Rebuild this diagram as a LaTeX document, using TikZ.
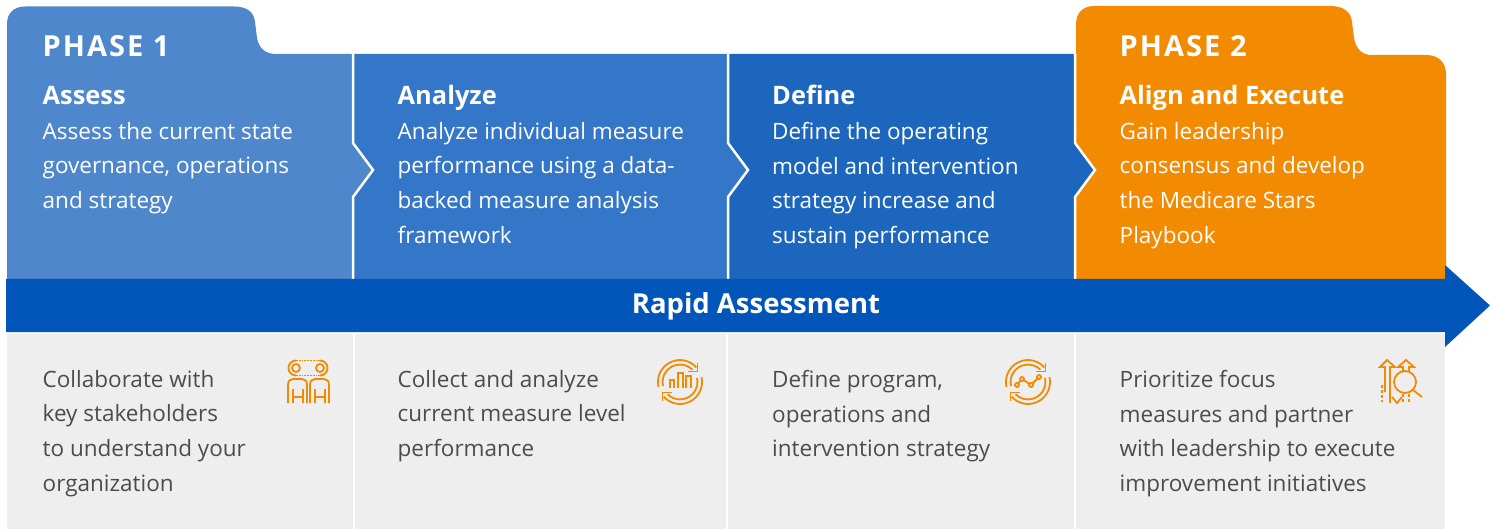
\documentclass[tikz,border=0pt]{standalone}
\usepackage{fontspec}
\setmainfont{Open Sans}
\usetikzlibrary{positioning, calc}
\definecolor{stepone}{HTML}{4E87CC}
\definecolor{steptwo}{HTML}{3476C7}
\definecolor{stepthree}{HTML}{1D66BE}
\definecolor{phaseorange}{HTML}{F28A02}
\definecolor{barblue}{HTML}{0256B9}
\definecolor{lowgrey}{HTML}{EEEEEE}
\tikzset{
  phaselabel/.style={white, anchor=base west, inner sep=0pt, font=\fontsize{29}{29}\selectfont\bfseries\addfontfeature{LetterSpace=7}},
  steplabel/.style={white, anchor=base west, inner sep=0pt, font=\fontsize{25.4}{25.4}\selectfont\bfseries},
  bodytext/.style={anchor=north west, inner sep=0pt, align=left, font=\fontsize{22.5}{34.6}\selectfont},
  gapline/.style={white, line width=2.5pt, miter limit=10},
  iconline/.style={phaseorange, line width=1.8pt},
}
\newcommand{\refreshicon}[2]{
  \foreach \r in {0,180} {
    \begin{scope}[shift={(#1,#2)}, rotate=\r]
      \draw[iconline] (17.5,-19) -- (17.5,-10.5) -- (8,-10.5);
      \draw[iconline] (-21.5,5) arc[start angle=167, end angle=318, radius=22];
      \draw[iconline] (-17,4) arc[start angle=167, end angle=315, radius=17.5];
    \end{scope}
  }
}
\begin{document}
\begin{tikzpicture}[x=1pt, y=-1pt]
  \useasboundingbox (0,0) rectangle (1496,529);

  \fill[phaseorange] (1076,24) .. controls (1076,12) and (1084,6) .. (1094,6)
    -- (1330,6) .. controls (1344,6) and (1351,12) .. (1352,22)
    -- (1354,38) .. controls (1356,49) and (1362,55) .. (1372,55)
    -- (1426,55) .. controls (1438,55) and (1446,62) .. (1446,74)
    -- (1446,279) -- (1076,279) -- cycle;

  \foreach \xl/\xr/\stepcol in {729/1075/stepthree, 354/728/steptwo} {
    \fill[\stepcol] (\xl,54) -- (\xr,54) -- (\xr,143) -- ($(\xr,143)+(20,27)$) -- ($(\xr,143)+(0,54)$) -- (\xr,279) -- (\xl,279) -- cycle;
    \draw[gapline] (\xr,54) -- (\xr,143) -- ($(\xr,143)+(20,27)$) -- ($(\xr,143)+(0,54)$) -- (\xr,279);
  }

  \fill[stepone] (7,24) .. controls (7,13) and (14,6.5) .. (25,6.5)
    -- (234,6.5) .. controls (247,6.5) and (254,12) .. (255,22)
    -- (257,38) .. controls (259,48) and (265,54) .. (276,54)
    -- (353,54) -- (353,143) -- (373,170) -- (353,197) -- (353,279) -- (7,279) -- cycle;
  \draw[gapline] (353,54) -- (353,143) -- (373,170) -- (353,197) -- (353,279);

  \foreach \xl/\xr in {7/353, 355/726, 728/1074, 1076/1445} {
    \fill[lowgrey] (\xl,334) rectangle (\xr,529);
  }

  \fill[barblue] (6,279) -- (1445,279) -- (1445,265) -- (1490,305.5) -- (1445,347) -- (1445,332) -- (6,332) -- cycle;
  \node[white, font=\fontsize{27.5}{27.5}\selectfont\bfseries] (rapid) at (756,306) {Rapid Assessment};

  \node[phaselabel] (phaseone) at (42.5,56.5) {PHASE 1};
  \node[phaselabel] (phasetwo) at (1119.5,56.5) {PHASE 2};

  \node[steplabel] (assess) at (42.5,104.5) {Assess};
  \node[steplabel] (analyze) at (397.5,104.5) {Analyze};
  \node[steplabel] (define) at (772,104.5) {Define};
  \node[steplabel] (align) at (1119.5,104.5) {Align and Execute};

  \node[bodytext, white] (assesstext) at (42.5,122) {Assess the current state\\governance, operations\\and strategy};
  \node[bodytext, white] (analyzetext) at (397.5,122) {Analyze individual measure\\performance using a data-\\backed measure analysis\\framework};
  \node[bodytext, white] (definetext) at (772,122) {Define the operating\\model and intervention\\strategy increase and\\sustain performance};
  \node[bodytext, white] (aligntext) at (1119.5,122) {Gain leadership\\consensus and develop\\the Medicare Stars\\Playbook};

  \node[bodytext, black!70] (collab) at (42.5,370) {Collaborate with\\key stakeholders\\to understand your\\organization};
  \node[bodytext, black!70] (collect) at (397.5,370) {Collect and analyze\\current measure level\\performance};
  \node[bodytext, black!70] (program) at (772,370) {Define program,\\operations and\\intervention strategy};
  \node[bodytext, black!70] (priority) at (1119.5,370) {Prioritize focus\\measures and partner\\with leadership to execute\\improvement initiatives};

  \draw[iconline] (296,360.5) arc[start angle=-90, end angle=-270, radius=7.5];
  \draw[iconline] (320,360.5) arc[start angle=-90, end angle=90, radius=7.5];
  \draw[iconline, densely dotted] (296,360.5) -- (320,360.5) (296,375.5) -- (320,375.5);
  \foreach \cx in {296,320} {
    \draw[iconline] (\cx,368) circle[radius=4];
  }
  \foreach \bx in {288,310} {
    \draw[iconline] (\bx,403) -- (\bx,385) .. controls (\bx,381) and ($(\bx,379)+(2,0)$) .. ($(\bx,379)+(5,0)$)
      -- ($(\bx,379)+(14,0)$) .. controls ($(\bx,379)+(17,0)$) and ($(\bx,381)+(19,0)$) .. ($(\bx,385)+(19,0)$) -- ($(\bx,403)+(19,0)$);
    \draw[iconline] ($(\bx,389)+(5,0)$) -- ($(\bx,403)+(5,0)$) ($(\bx,389)+(15,0)$) -- ($(\bx,403)+(15,0)$) ($(\bx,397)+(5,0)$) -- ($(\bx,397)+(15,0)$);
  }

  \refreshicon{680}{382}
  \draw[iconline, line width=1.4pt] (670,388) -- (670,380) -- (674,380) -- (674,388) (678,388) -- (678,373) -- (683,373) -- (683,388) (686,388) -- (686,376) -- (691,376) -- (691,388);

  \refreshicon{1028}{382}
  \draw[iconline] (1017,385) -- (1022,379) -- (1031,385) -- (1039,377);
  \foreach \px/\py in {1017/385, 1022/379, 1031/385, 1039/377} {
    \draw[iconline, fill=lowgrey] (\px,\py) circle[radius=2];
  }

  \draw[iconline] (1385,392) -- (1385,367) -- (1380,367) -- (1387,360) -- (1395,367) -- (1390,367) -- (1390,403);
  \draw[iconline] (1403,372) -- (1403,367) -- (1398,367) -- (1406,360) -- (1414,367) -- (1409,367) -- (1409,372);
  \draw[iconline, densely dashed] (1382,385) -- (1382,402);
  \draw[iconline, densely dashed] (1403,394) -- (1403,403) (1409,394) -- (1409,403);
  \draw[iconline] (1392,397) -- (1397,403) -- (1402,397);
  \draw[iconline] (1405,382) circle[radius=11];
  \draw[iconline] (1413,390) -- (1422,397);
\end{tikzpicture}
\end{document}
